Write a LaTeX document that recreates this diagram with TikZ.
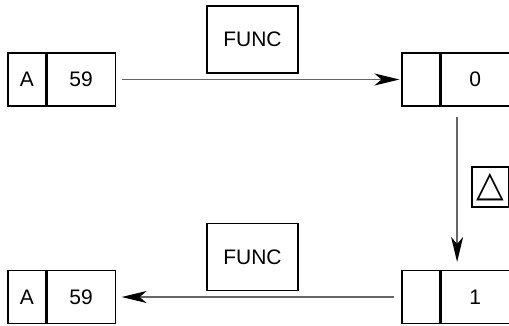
\documentclass[tikz,border=0pt]{standalone}
\usepackage{fontspec}
\setmainfont{Liberation Sans}
\newfontfamily\symfont{DejaVu Sans}
\usetikzlibrary{arrows.meta, positioning}

\begin{document}
\begin{tikzpicture}[x=1pt, y=-1pt,
    cell/.style={draw, line width=1.1pt, minimum width=38pt, minimum height=53pt, inner sep=0pt, font=\fontsize{21}{25}\selectfont},
    val/.style={cell, minimum width=68pt},
    func/.style={draw, line width=1.1pt, minimum width=91pt, minimum height=67pt, inner sep=0pt, font=\fontsize{21}{25}\selectfont},
    line/.style={draw=black!60, line width=1.3pt, -{Stealth[length=25pt, width=12pt, inset=7pt, black]}}]
    \useasboundingbox (0,0) rectangle (509,325);

    % Top row
    \node [cell] (tl_c) at (27, 79.5) {A};
    \node [val, right=0pt of tl_c] (tl_v) {59};
    \node [cell] (tr_c) at (421, 79.5) {};
    \node [val, right=0pt of tr_c] (tr_v) {0};
    \node [func] (func_top) at (252.5, 39.5) {FUNC};

    % Bottom row
    \node [cell] (bl_c) at (27, 297) {A};
    \node [val, right=0pt of bl_c] (bl_v) {59};
    \node [cell] (br_c) at (421, 297) {};
    \node [val, right=0pt of br_c] (br_v) {1};
    \node [func] (func_bot) at (252.5, 257) {FUNC};

    % Delta step
    \node [draw, line width=1.1pt, minimum width=37pt, minimum height=40pt, inner sep=0pt, font=\symfont\fontsize{36}{38}\selectfont] (delta) at (490.5, 187) {△};

    % Paths
    \path [line, shorten <=6pt, shorten >=2pt] (tl_v.east) -- (tr_c.west);
    \path [line, shorten <=10pt, shorten >=8pt] ([xshift=-18pt]tr_v.south) -- ([xshift=-18pt]br_v.north);
    \path [line, shorten <=7pt, shorten >=6pt] (br_c.west) -- (bl_v.east);
\end{tikzpicture}
\end{document}
